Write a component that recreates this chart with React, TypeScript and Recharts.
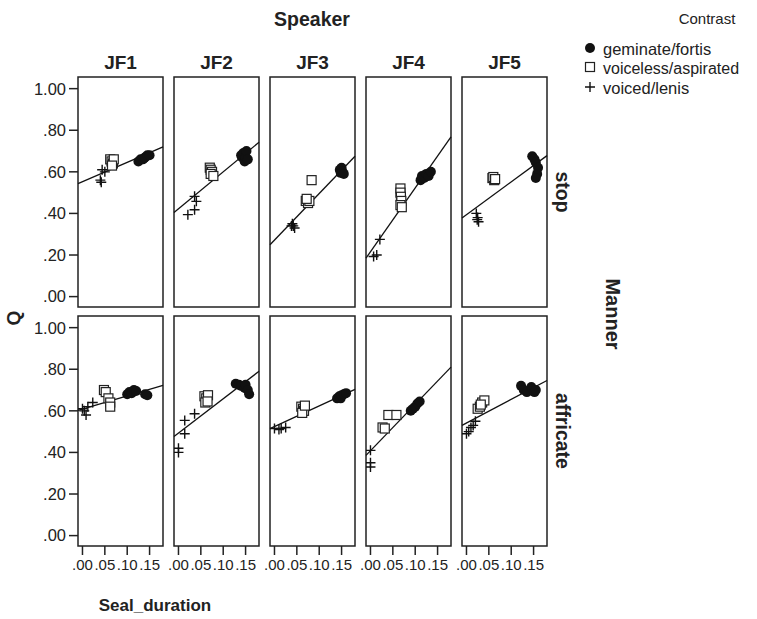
import { ComposedChart, ReferenceArea, ReferenceLine, Scatter, XAxis, YAxis } from 'recharts'

type Pt = [number, number]

const speakers = ['JF1', 'JF2', 'JF3', 'JF4', 'JF5']
const manners = ['stop', 'affricate']
const xTicks = [0, 0.05, 0.1, 0.15]
const yTicks = [0, 0.2, 0.4, 0.6, 0.8, 1]
const xDomain: [number, number] = [-0.01, 0.18]
const yDomain: [number, number] = [-0.05, 1.056]

// stop, one list per speaker: [Seal_duration, Q]
const geminateStop: Pt[][] = [
  [[0.125, 0.65], [0.13, 0.66], [0.135, 0.66], [0.138, 0.665], [0.14, 0.67], [0.145, 0.68], [0.15, 0.68]],
  [[0.14, 0.68], [0.142, 0.67], [0.145, 0.69], [0.148, 0.65], [0.15, 0.67], [0.152, 0.7], [0.155, 0.66]],
  [[0.146, 0.61], [0.148, 0.595], [0.15, 0.62], [0.152, 0.6], [0.155, 0.59]],
  [[0.112, 0.56], [0.115, 0.58], [0.12, 0.57], [0.125, 0.59], [0.13, 0.58], [0.135, 0.6]],
  [[0.147, 0.675], [0.152, 0.66], [0.155, 0.645], [0.16, 0.62], [0.158, 0.59], [0.155, 0.57]],
]
const voicelessStop: Pt[][] = [
  [[0.062, 0.66], [0.065, 0.65], [0.068, 0.64], [0.07, 0.66], [0.066, 0.63]],
  [[0.07, 0.62], [0.072, 0.61], [0.075, 0.6], [0.072, 0.59], [0.078, 0.58]],
  [[0.083, 0.56], [0.07, 0.46], [0.075, 0.45], [0.078, 0.46], [0.072, 0.47]],
  [[0.067, 0.52], [0.067, 0.5], [0.068, 0.48], [0.069, 0.46], [0.067, 0.44], [0.07, 0.43]],
  [[0.058, 0.57], [0.062, 0.56], [0.06, 0.575], [0.064, 0.565]],
]
const voicedStop: Pt[][] = [
  [[0.044, 0.61], [0.04, 0.56], [0.042, 0.55], [0.05, 0.6]],
  [[0.036, 0.482], [0.04, 0.458], [0.036, 0.418], [0.021, 0.394]],
  [[0.04, 0.35], [0.042, 0.34], [0.045, 0.33], [0.038, 0.34]],
  [[0.021, 0.275], [0.014, 0.2], [0.007, 0.193]],
  [[0.022, 0.4], [0.025, 0.38], [0.024, 0.37], [0.027, 0.36]],
]

// affricate
const geminateAffricate: Pt[][] = [
  [[0.1, 0.68], [0.105, 0.69], [0.11, 0.685], [0.115, 0.7], [0.12, 0.695], [0.14, 0.68], [0.145, 0.675]],
  [[0.128, 0.73], [0.135, 0.725], [0.14, 0.72], [0.148, 0.71], [0.15, 0.725], [0.155, 0.7], [0.158, 0.68]],
  [[0.14, 0.66], [0.145, 0.67], [0.148, 0.66], [0.15, 0.675], [0.155, 0.68], [0.16, 0.685]],
  [[0.09, 0.6], [0.095, 0.61], [0.1, 0.62], [0.105, 0.635], [0.11, 0.645]],
  [[0.122, 0.72], [0.128, 0.7], [0.135, 0.69], [0.145, 0.715], [0.152, 0.69], [0.155, 0.7]],
]
const voicelessAffricate: Pt[][] = [
  [[0.048, 0.7], [0.052, 0.69], [0.058, 0.66], [0.062, 0.64], [0.062, 0.62]],
  [[0.058, 0.67], [0.062, 0.66], [0.066, 0.675], [0.06, 0.64], [0.065, 0.645]],
  [[0.06, 0.62], [0.064, 0.61], [0.066, 0.6], [0.062, 0.59], [0.068, 0.625]],
  [[0.027, 0.52], [0.032, 0.515], [0.04, 0.58], [0.058, 0.58]],
  [[0.025, 0.61], [0.03, 0.62], [0.035, 0.64], [0.04, 0.65], [0.032, 0.63]],
]
const voicedAffricate: Pt[][] = [
  [[0.0, 0.61], [0.004, 0.6], [0.008, 0.58], [0.012, 0.62], [0.023, 0.64]],
  [[0.0, 0.42], [0.0, 0.4], [0.014, 0.49], [0.014, 0.554], [0.036, 0.586]],
  [[0.0, 0.515], [0.01, 0.51], [0.015, 0.515], [0.025, 0.52]],
  [[0.0, 0.41], [0.0, 0.35], [0.0, 0.33]],
  [[0.0, 0.49], [0.005, 0.5], [0.01, 0.52], [0.015, 0.53], [0.02, 0.55]],
]

// fit line: Q at left and right end of the x range
const fitStop: Pt[] = [[0.543, 0.72], [0.405, 0.742], [0.249, 0.675], [0.185, 0.768], [0.378, 0.678]]
const fitAffricate: Pt[] = [[0.602, 0.722], [0.477, 0.79], [0.514, 0.703], [0.386, 0.81], [0.53, 0.746]]

const colLeft = [78, 174, 270, 366, 462]
const rowTop = [77, 316]
const PW = 85
const PH = 230
const YW = 78
const XH = 30
const M = 2
const PX = 14
const font = '"Liberation Sans", Arial, sans-serif'
const ink = '#222'

const toObj = (pts: Pt[]) => pts.map(([x, y]) => ({ x, y }))
const fmt = (v: number) => v.toFixed(2).replace(/^0/, '')

const CircleShape = (p: any) => <circle cx={p.cx} cy={p.cy} r={5} fill="#111" />
const SquareShape = (p: any) => (
  <rect x={p.cx - 4.5} y={p.cy - 4.5} width={9} height={9} fill="#fff" stroke="#222" strokeWidth={1.2} />
)
const PlusShape = (p: any) => (
  <path d={`M${p.cx - 5},${p.cy}h10M${p.cx},${p.cy - 5}v10`} stroke="#111" strokeWidth={1.4} fill="none" />
)

function Panel({ col, row }: { col: number; row: number }) {
  const first = col === 0
  const bottom = row === 1
  const padL = first ? M : PX
  const w = PW + (first ? YW : 0) + padL + PX
  const h = PH + (bottom ? XH : 0) + 2 * M
  const left = colLeft[col] - (first ? YW : 0) - padL
  const top = rowTop[row] - M
  const gem = row === 0 ? geminateStop : geminateAffricate
  const vl = row === 0 ? voicelessStop : voicelessAffricate
  const vd = row === 0 ? voicedStop : voicedAffricate
  const fit = row === 0 ? fitStop : fitAffricate
  return (
    <div style={{ position: 'absolute', left, top }}>
      <ComposedChart width={w} height={h} margin={{ top: M, right: PX, bottom: M, left: padL }}>
        <XAxis
          type="number"
          dataKey="x"
          domain={xDomain}
          ticks={xTicks}
          tickFormatter={fmt}
          hide={!bottom}
          height={XH}
          axisLine={false}
          tickSize={9}
          tickMargin={4}
          tickLine={{ stroke: ink, strokeWidth: 1.5 }}
          tick={{ fill: ink, fontSize: 15, fontFamily: font }}
          interval={0}
          allowDataOverflow
        />
        <YAxis
          type="number"
          dataKey="y"
          domain={yDomain}
          ticks={yTicks}
          tickFormatter={fmt}
          hide={!first}
          width={YW}
          axisLine={false}
          tickSize={9}
          tickMargin={3}
          tickLine={{ stroke: ink, strokeWidth: 1.5 }}
          tick={{ fill: ink, fontSize: 16.5, fontFamily: font }}
          interval={0}
          allowDataOverflow
        />
        <ReferenceArea
          x1={xDomain[0]}
          x2={xDomain[1]}
          y1={yDomain[0]}
          y2={yDomain[1]}
          fill="none"
          fillOpacity={0}
          stroke={ink}
          strokeWidth={1.5}
        />
        <Scatter data={toObj(gem[col])} shape={CircleShape} isAnimationActive={false} />
        <Scatter data={toObj(vl[col])} shape={SquareShape} isAnimationActive={false} />
        <Scatter data={toObj(vd[col])} shape={PlusShape} isAnimationActive={false} />
        <ReferenceLine
          segment={[
            { x: xDomain[0], y: fit[col][0] },
            { x: xDomain[1], y: fit[col][1] },
          ]}
          stroke="#111"
          strokeWidth={1.3}
        />
      </ComposedChart>
    </div>
  )
}

export default function App() {
  return (
    <div style={{ position: 'absolute', left: 0, top: 0, width: 757, height: 619, background: '#fff' }}>
      {manners.map((_, row) => speakers.map((_, col) => <Panel key={`${row}-${col}`} col={col} row={row} />))}
      <svg width={757} height={619} style={{ position: 'absolute', left: 0, top: 0, pointerEvents: 'none' }} fontFamily={font}>
        <text x={312} y={19} textAnchor="middle" dominantBaseline="central" fontWeight="bold" fontSize={19.5} fill={ink}>
          Speaker
        </text>
        {speakers.map((s, i) => (
          <text key={s} x={colLeft[i] + PW / 2} y={62} textAnchor="middle" dominantBaseline="central" fontWeight="bold" fontSize={19} fill={ink}>
            {s}
          </text>
        ))}
        {manners.map((m, i) => (
          <text
            key={m}
            transform={`translate(563,${rowTop[i] + PH / 2}) rotate(90)`}
            textAnchor="middle"
            dominantBaseline="central"
            fontWeight="bold"
            fontSize={19.5}
            fill={ink}
          >
            {m}
          </text>
        ))}
        <text transform="translate(613,314) rotate(90)" textAnchor="middle" dominantBaseline="central" fontWeight="bold" fontSize={20} fill={ink}>
          Manner
        </text>
        <text transform="translate(13,318) rotate(-90)" textAnchor="middle" dominantBaseline="central" fontWeight="bold" fontSize={19} fill={ink}>
          Q
        </text>
        <text x={155} y={605} textAnchor="middle" dominantBaseline="central" fontWeight="bold" fontSize={17} fill={ink}>
          Seal_duration
        </text>
        <text x={707} y={18} textAnchor="middle" dominantBaseline="central" fontSize={15} fill={ink}>
          Contrast
        </text>
        <circle cx={590} cy={48} r={5} fill="#111" />
        <text x={603} y={49} dominantBaseline="central" fontSize={16.5} fill={ink}>
          geminate/fortis
        </text>
        <rect x={585.5} y={62.5} width={9} height={9} fill="#fff" stroke="#222" strokeWidth={1.2} />
        <text x={603} y={68} dominantBaseline="central" fontSize={16} fill={ink}>
          voiceless/aspirated
        </text>
        <path d="M585,87h10M590,82v10" stroke="#111" strokeWidth={1.4} />
        <text x={603} y={88} dominantBaseline="central" fontSize={16.5} fill={ink}>
          voiced/lenis
        </text>
      </svg>
    </div>
  )
}
